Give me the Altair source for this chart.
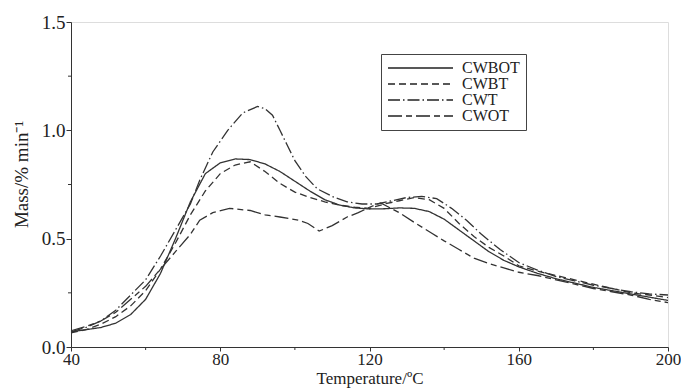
import altair as alt
import pandas as pd

series_names = ["CWBOT", "CWBT", "CWT", "CWOT"]

cwbot_x = [40, 44, 48, 52, 56, 60, 64, 68, 72, 76, 80, 84, 88, 92, 96, 100, 104, 108, 112, 116, 120, 124, 128, 132, 136, 140, 144, 148, 152, 156, 160, 165, 170, 175, 180, 185, 190, 195, 200]
cwbot_y = [0.07, 0.08, 0.09, 0.11, 0.15, 0.22, 0.34, 0.50, 0.67, 0.80, 0.85, 0.868, 0.865, 0.845, 0.81, 0.765, 0.72, 0.68, 0.655, 0.642, 0.637, 0.638, 0.642, 0.64, 0.625, 0.59, 0.54, 0.49, 0.44, 0.40, 0.37, 0.34, 0.315, 0.295, 0.275, 0.26, 0.245, 0.23, 0.215]

cwbt_x = [40, 44, 48, 52, 56, 60, 64, 68, 72, 76, 80, 84, 88, 92, 96, 100, 104, 108, 112, 116, 120, 124, 128, 132, 136, 140, 144, 148, 152, 156, 160, 165, 170, 175, 180, 185, 190, 195, 200]
cwbt_y = [0.065, 0.08, 0.105, 0.14, 0.19, 0.26, 0.36, 0.48, 0.61, 0.72, 0.80, 0.84, 0.855, 0.81, 0.755, 0.715, 0.69, 0.67, 0.655, 0.645, 0.64, 0.66, 0.675, 0.69, 0.68, 0.64, 0.57, 0.51, 0.46, 0.42, 0.375, 0.35, 0.33, 0.31, 0.29, 0.27, 0.25, 0.24, 0.228]

cwt_x = [40, 44, 48, 52, 56, 60, 64, 68, 72, 74.5, 78, 82, 86, 90, 92, 94, 96, 98, 100, 103, 106, 110, 114, 118, 122, 126, 130, 134, 138, 142, 146, 150, 155, 160, 165, 170, 175, 180, 185, 190, 195, 200]
cwt_y = [0.07, 0.09, 0.12, 0.17, 0.24, 0.31, 0.42, 0.54, 0.66, 0.77, 0.90, 1.00, 1.08, 1.11, 1.10, 1.07, 1.00, 0.93, 0.86, 0.785, 0.73, 0.695, 0.67, 0.66, 0.66, 0.675, 0.69, 0.695, 0.685, 0.64, 0.585, 0.52, 0.45, 0.39, 0.355, 0.325, 0.305, 0.285, 0.27, 0.255, 0.245, 0.24]

cwot_x = [40, 44, 48, 52, 56, 60, 64, 68, 72, 74.5, 78, 82.5, 88, 92, 96, 101, 103.5, 106.5, 110, 114, 117, 120, 123, 128, 132, 136.7, 140, 144, 148, 152, 156, 160, 165, 170, 175, 180, 185, 190, 195, 200]
cwot_y = [0.075, 0.095, 0.12, 0.16, 0.22, 0.28, 0.36, 0.44, 0.52, 0.585, 0.62, 0.64, 0.63, 0.61, 0.6, 0.585, 0.57, 0.535, 0.56, 0.6, 0.62, 0.645, 0.665, 0.62, 0.575, 0.525, 0.49, 0.45, 0.41, 0.385, 0.365, 0.345, 0.33, 0.31, 0.29, 0.27, 0.255, 0.24, 0.22, 0.205]

x_ticks = [40, 80, 120, 160, 200]
x_minor = [60, 100, 140, 180]
y_ticks = [0.0, 0.5, 1.0, 1.5]
y_minor = [0.25, 0.75, 1.25]

rows = []
for name, xs, ys in [("CWBOT", cwbot_x, cwbot_y), ("CWBT", cwbt_x, cwbt_y),
                     ("CWT", cwt_x, cwt_y), ("CWOT", cwot_x, cwot_y)]:
    for i, (a, b) in enumerate(zip(xs, ys)):
        rows.append({"series": name, "T": a, "m": b, "o": i})
df = pd.DataFrame(rows)

FONT = "Liberation Serif"
xscale = alt.Scale(domain=[40, 200], nice=False, zero=False)
yscale = alt.Scale(domain=[0, 1.5], nice=False)

lines = alt.Chart(df).mark_line(strokeWidth=1.3, color="#333333").encode(
    x=alt.X("T:Q", scale=xscale,
            axis=alt.Axis(title="Temperature/ºC", values=x_ticks, format="d", grid=False,
                          tickSize=4, tickColor="#333", domainColor="#333",
                          labelFont=FONT, labelFontSize=17, labelColor="#222",
                          titleFont=FONT, titleFontSize=17, titleFontWeight="normal",
                          titleColor="#222", labelPadding=0, titlePadding=3,
                          labelFlush=False)),
    y=alt.Y("m:Q", scale=yscale,
            axis=alt.Axis(title="Mass/% min⁻¹", values=y_ticks, format=".1f", grid=False,
                          tickSize=5, tickColor="#333", domainColor="#333",
                          labelFont=FONT, labelFontSize=19, labelColor="#222",
                          titleFont=FONT, titleFontSize=19, titleFontWeight="normal",
                          titleColor="#222", labelPadding=1, titleX=-40, titleY=152)),
    strokeDash=alt.StrokeDash("series:N",
        scale=alt.Scale(domain=series_names,
                        range=[[1, 0], [7, 4], [12, 3, 1.5, 3], [14, 4, 6, 4]]),
        sort=series_names,
        legend=alt.Legend(title=None, orient="none", legendX=310, legendY=32,
                          symbolType="stroke", symbolSize=4225, symbolStrokeWidth=1.5,
                          symbolStrokeColor="#222", labelFont=FONT, labelFontSize=16,
                          labelColor="#222", rowPadding=0, padding=6, clipHeight=16,
                          strokeColor="#444", labelOffset=8, symbolOffset=0)),
    detail="series:N",
    order="o:Q",
)

xminor_df = pd.DataFrame({"T": x_minor})
yminor_df = pd.DataFrame({"m": y_minor})

xm = alt.Chart(xminor_df).mark_rule(color="#333", strokeWidth=1).encode(
    x=alt.X("T:Q", scale=xscale),
    y=alt.value(325), y2=alt.value(328))
ym = alt.Chart(yminor_df).mark_rule(color="#333", strokeWidth=1).encode(
    y=alt.Y("m:Q", scale=yscale),
    x=alt.value(-3), x2=alt.value(0))

chart = alt.layer(lines, xm, ym).properties(
    width=597, height=325, autosize="none",
    padding={"left": 71, "top": 22, "right": 13, "bottom": 43},
).configure_view(stroke="#333", strokeWidth=1).configure(background="white")

chart.save("out.html", embed_options={"renderer": "svg", "actions": False})
